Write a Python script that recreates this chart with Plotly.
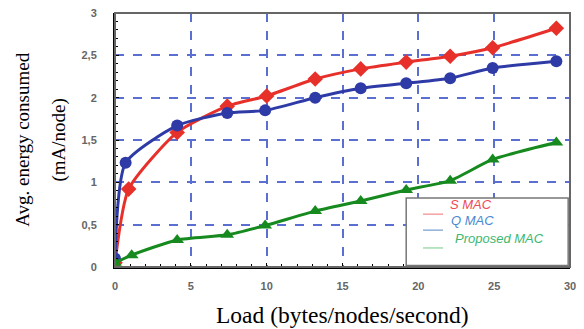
import plotly.graph_objects as go

# Data
smac_x = [0, 0.9, 4.1, 7.4, 10.0, 13.2, 16.2, 19.2, 22.1, 24.9, 29.1]
smac_y = [0.05, 0.92, 1.59, 1.90, 2.02, 2.22, 2.34, 2.42, 2.49, 2.59, 2.82]
qmac_x = [0, 0.7, 4.1, 7.4, 9.9, 13.2, 16.2, 19.2, 22.1, 24.9, 29.1]
qmac_y = [0.10, 1.23, 1.67, 1.82, 1.85, 2.00, 2.11, 2.17, 2.23, 2.35, 2.43]
prop_x = [0, 1.1, 4.1, 7.4, 9.9, 13.2, 16.2, 19.2, 22.1, 24.9, 29.1]
prop_y = [0.05, 0.14, 0.32, 0.38, 0.49, 0.66, 0.78, 0.91, 1.02, 1.27, 1.47]

x_ticks = [0, 5, 10, 15, 20, 25, 30]
x_ticktext = ["0", "5", "10", "15", "20", "25", "30"]
y_ticks = [0, 0.5, 1, 1.5, 2, 2.5, 3]
y_ticktext = ["0", "0,5", "1", "1,5", "2", "2,5", "3"]

series_names = ["S MAC", "Q MAC", "Proposed MAC"]
line_colors = ["#e8302a", "#2e3aa6", "#168a1e"]
legend_line_colors = ["#f4a0a0", "#8fb0d8", "#9fdcae"]
legend_text_colors = ["#ee4a55", "#4a88d0", "#3cb870"]
symbols = ["diamond", "circle", "triangle-up"]

fig = go.Figure()
for xs, ys, name, col, sym in zip([smac_x, qmac_x, prop_x], [smac_y, qmac_y, prop_y],
                                  series_names, line_colors, symbols):
    fig.add_trace(go.Scatter(
        x=xs, y=ys, name=name, mode="lines+markers",
        line=dict(color=col, width=3, shape="spline", smoothing=0.6),
        marker=dict(symbol=sym, size=12, color=col),
        showlegend=False,
    ))

grid_col = "#5b6fd0"
tick_font = dict(family="Liberation Sans", size=11, color="#666666", weight="bold")
fig.update_layout(
    width=576, height=321,
    margin=dict(l=107, r=14, t=5, b=62, autoexpand=False),
    paper_bgcolor="white", plot_bgcolor="white",
    xaxis=dict(
        range=[0, 30], tickvals=x_ticks, ticktext=x_ticktext, automargin=False,
        showgrid=True, gridcolor=grid_col, griddash="dash", gridwidth=1.5,
        zeroline=False, showline=True, linecolor="black", linewidth=2,
        ticks="inside", ticklen=4, tickcolor="black", ticklabelstandoff=8,
        ticklabeloverflow="allow",
        minor=dict(dtick=1, ticks="inside", ticklen=3, tickcolor="black", showgrid=False),
        tickfont=tick_font,
    ),
    yaxis=dict(
        range=[0, 3], tickvals=y_ticks, ticktext=y_ticktext, automargin=False,
        showgrid=True, gridcolor=grid_col, griddash="dash", gridwidth=1.5,
        zeroline=False, showline=True, linecolor="black", linewidth=2,
        ticks="inside", ticklen=4, tickcolor="black", ticklabelstandoff=14,
        ticklabeloverflow="allow",
        minor=dict(dtick=0.1, ticks="inside", ticklen=3, tickcolor="black", showgrid=False),
        tickfont=tick_font,
    ),
)

# Plot frame (gray top/right)
fig.add_shape(type="rect", xref="paper", yref="paper", x0=0, x1=1, y0=0, y1=1,
              line=dict(color="#666666", width=2), layer="above")

# Axis titles
serif = "Liberation Serif"
fig.add_annotation(text="Load (bytes/nodes/second)", xref="paper", yref="paper",
                   x=0.5, y=-0.189, yanchor="middle", showarrow=False,
                   font=dict(family=serif, size=23.5, color="black"))
fig.add_annotation(text="Avg. energy consumed", xref="paper", yref="paper",
                   x=-0.205, y=0.5, textangle=-90, xanchor="center", showarrow=False,
                   font=dict(family=serif, size=19, color="black"))
fig.add_annotation(text="(mA/node)", xref="paper", yref="paper",
                   x=-0.124, y=0.5, textangle=-90, xanchor="center", showarrow=False,
                   font=dict(family=serif, size=19, color="black"))

# Legend box
lx0, lx1, ly0, ly1 = 0.64, 0.996, 0.006, 0.272
fig.add_shape(type="rect", xref="paper", yref="paper", x0=lx0, x1=lx1, y0=ly0, y1=ly1,
              fillcolor="white", line=dict(color="#777777", width=1.5), layer="above")
leg_y = [0.208, 0.145, 0.075]
leg_x = [0.732, 0.734, 0.742]
for i, name in enumerate(series_names):
    fig.add_shape(type="line", xref="paper", yref="paper", x0=0.677, x1=0.721,
                  y0=leg_y[i], y1=leg_y[i], line=dict(color=legend_line_colors[i], width=1.5),
                  layer="above")
    fig.add_annotation(text="<i>" + name + "</i>", xref="paper", yref="paper",
                       x=leg_x[i], y=leg_y[i], xanchor="left", showarrow=False,
                       font=dict(family="Liberation Sans", size=13, color=legend_text_colors[i]))

fig.write_html("out.html")
